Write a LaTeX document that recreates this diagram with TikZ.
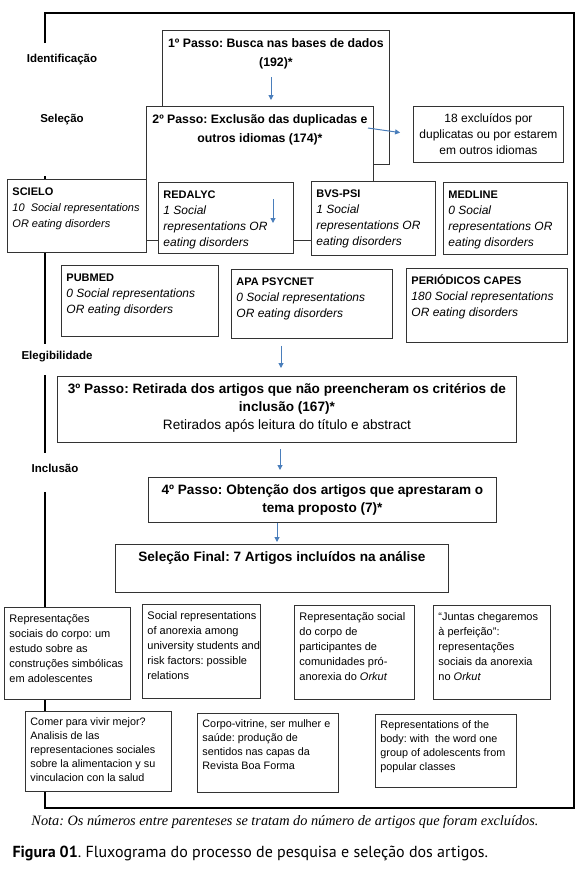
\documentclass[tikz,border=0pt]{standalone}
\usepackage{fontspec}
\setmainfont{Liberation Sans}
\newfontfamily\notafont{Liberation Serif}
\newfontfamily\capfont{PT Sans}
\usetikzlibrary{arrows.meta}
\frenchspacing

% texto no topo da caixa (largura e altura externas)
\newcommand{\esq}[3]{\parbox[t][\dimexpr#2pt-9pt\relax][t]{\dimexpr#1pt-10pt\relax}{\begin{tabular}[t]{@{}l@{}}#3\end{tabular}}}
\newcommand{\cen}[3]{\parbox[t][\dimexpr#2pt-9pt\relax][t]{\dimexpr#1pt-10pt\relax}{\makebox[\linewidth][c]{\begin{tabular}[t]{@{}c@{}}#3\end{tabular}}}}
\newcommand{\titulo}[1]{\textbf{\upshape\fontsize{11}{16}\selectfont #1}}

\begin{document}
\begin{tikzpicture}[x=1pt,y=-1pt,
		moldura/.style={line width=2.8pt,black},
		caixa/.style={draw=cinza,line width=0.9pt,fill=white,anchor=north west,inner xsep=5pt,inner ysep=4.5pt},
		passo/.style={caixa,font=\fontsize{12.3}{18.5}\selectfont\bfseries},
		passob/.style={caixa,font=\fontsize{13.6}{18}\selectfont\bfseries},
		base/.style={caixa,font=\fontsize{12}{16}\selectfont\itshape},
		artigo/.style={caixa,font=\fontsize{11}{15}\selectfont},
		artigob/.style={caixa,font=\fontsize{10.8}{14}\selectfont},
		rotulo/.style={font=\fontsize{11.5}{13}\selectfont\bfseries},
		seta/.style={-{Triangle[length=5pt,width=5pt]},line width=1pt,setaazul}]
		\definecolor{setaazul}{HTML}{4A7EBB}
		\definecolor{cinza}{HTML}{333333}
		\useasboundingbox (0,0) rectangle (580,871);
		% moldura
		\draw[moldura] (45,43) -- (45,13) -- (574,13) -- (574,808) -- (45,808) -- (45,791);
		\draw[moldura] (45,176) -- (45,179);
		\draw[moldura] (45,252) -- (45,344);
		\draw[moldura] (45,375) -- (45,453);
		\draw[moldura] (45,492) -- (45,607);
		\draw[moldura] (45,699) -- (45,711);
		% fases
		\node[rotulo] (ident) at (62,60) {Identificação};
		\node[rotulo] (selec) at (62,120) {Seleção};
		\node[rotulo] (eleg) at (57,357) {Elegibilidade};
		\node[rotulo] (incl) at (55,468) {Inclusão};
		% passo 1 e 2
		\node[passo] (p1) at (162,30) {\cen{227}{134}{1º Passo: Busca nas bases de dados\\(192)*}};
		\node[passo] (p2) at (146,106) {\cen{227}{134}{2º Passo: Exclusão das duplicadas e\\outros idiomas (174)*}};
		\coordinate (a1) at (271,77);
		\draw[seta,shorten >=6pt] (a1) -- (p2.north -| a1);
		% excluidos
		\node[caixa,font=\fontsize{12}{16}\selectfont] (ex) at (413,106) {\cen{150}{56}{18 excluídos por\\duplicatas ou por estarem\\em outros idiomas}};
		\coordinate (a2) at (368,128);
		\draw[seta,shorten >=13pt] (a2) -- (ex.west);
		% bases
		\node[base,font=\fontsize{11}{16}\selectfont\itshape] (scielo) at (7,179) {\esq{139}{73}{\titulo{SCIELO}\\10~ Social representations\\OR eating disorders}};
		\node[base] (redalyc) at (158,182) {\esq{135}{71}{\titulo{REDALYC}\\1 Social\\representations OR\\eating disorders}};
		\node[base] (bvs) at (311,181) {\esq{124}{74}{\titulo{BVS-PSI}\\1 Social\\representations OR\\eating disorders}};
		\node[base] (medline) at (443,182) {\esq{124}{72}{\titulo{MEDLINE}\\0 Social\\representations OR\\eating disorders}};
		\node[base] (pubmed) at (61,265) {\esq{157}{71}{\titulo{PUBMED}\\0 Social representations\\OR eating disorders}};
		\node[base] (apa) at (231,269) {\esq{161}{69}{\titulo{APA PSYCNET}\\0 Social representations\\OR eating disorders}};
		\node[base] (capes) at (406,268) {\esq{161}{74}{\titulo{PERIÓDICOS CAPES}\\180 Social representations\\OR eating disorders}};
		\coordinate (a3) at (273,199);
		\draw[seta] (a3) -- ++(0,24);
		% passo 3, 4 e final
		\node[passob] (p3) at (57,376) {\cen{459}{66}{3º Passo: Retirada dos artigos que não preencheram os critérios de\\inclusão (167)*\\\mdseries Retirados após leitura do título e abstract}};
		\node[passob] (p4) at (148,477) {\cen{348}{45}{4º Passo: Obtenção dos artigos que aprestaram o\\tema proposto (7)*}};
		\node[passob] (fin) at (115,544) {\cen{333}{48}{Seleção Final: 7 Artigos incluídos na análise}};
		\coordinate (a4) at (281,0);
		\draw[seta,shorten <=7pt,shorten >=8pt] (apa.south -| a4) -- (p3.north -| a4);
		\coordinate (a5) at (280,0);
		\draw[seta,shorten <=6pt,shorten >=7pt] (p3.south -| a5) -- (p4.north -| a5);
		\coordinate (a6) at (277,0);
		\draw[seta,shorten >=2pt] (p4.south -| a6) -- (fin.north -| a6);
		% artigos
		\node[artigo] (r1) at (4,607) {\esq{126}{92}{Representações\\sociais do corpo: um\\estudo sobre as\\construções simbólicas\\em adolescentes}};
		\node[artigo] (r2) at (142,604) {\esq{118}{94}{Social representations\\of anorexia among\\university students and\\risk factors: possible\\relations}};
		\node[artigo] (r3) at (294,605) {\esq{120}{94}{Representação social\\do corpo de\\participantes de\\comunidades pró-\\anorexia do \textit{Orkut}}};
		\node[artigo] (r4) at (433,605) {\esq{117}{94}{“Juntas chegaremos\\à perfeição”:\\representações\\sociais da anorexia\\no \textit{Orkut}}};
		\node[artigob] (s1) at (25,711) {\esq{146}{80}{Comer para vivir mejor?\\Analisis de las\\representaciones sociales\\sobre la alimentacion y su\\vinculacion con la salud}};
		\node[artigob] (s2) at (197,713) {\esq{141}{79}{Corpo-vitrine, ser mulher e\\saúde: produção de\\sentidos nas capas da\\Revista Boa Forma}};
		\node[artigob] (s3) at (375,714) {\esq{141}{73}{Representations of the\\body: with~ the word one\\group of adolescents from\\popular classes}};
		% nota e legenda
		\node[font=\notafont\itshape\fontsize{14.3}{16}\selectfont] (nota) at (285,822) {Nota: Os números entre parenteses se tratam do número de artigos que foram excluídos.};
		\node[anchor=west,font=\capfont\fontsize{16}{18}\selectfont] (legenda) at (9,853) {\textbf{Figura 01}. Fluxograma do processo de pesquisa e seleção dos artigos.};
\end{tikzpicture}
\end{document}
